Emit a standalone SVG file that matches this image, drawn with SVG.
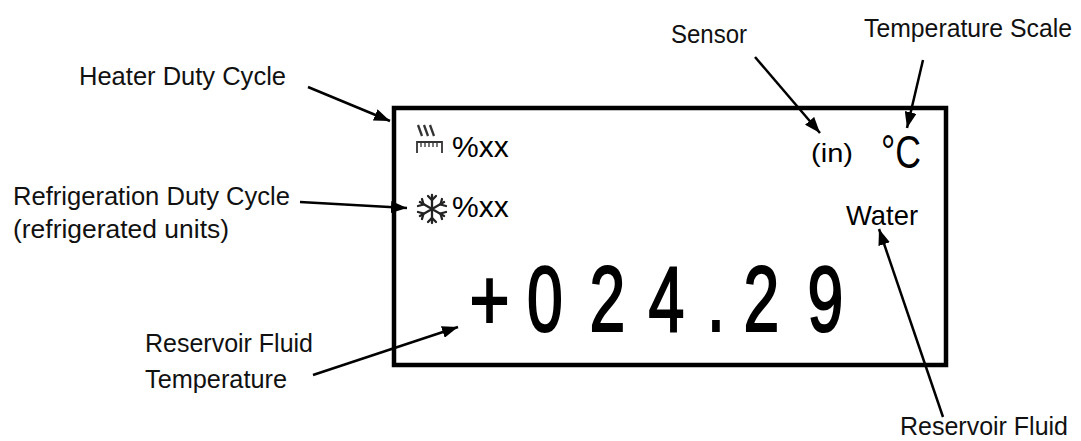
<svg xmlns="http://www.w3.org/2000/svg" width="1081" height="441" viewBox="0 0 1081 441">
<style>
.lbl{font-family:"Liberation Sans Narrow","Liberation Sans",Arial,sans-serif;font-size:26px;fill:#111}
.disp{font-family:"Liberation Sans",Arial,sans-serif;fill:#000}
.big{stroke:#000;stroke-width:2.2}
.con line{stroke:#000;stroke-width:2.5}
</style>
<defs>
<marker id="ah" viewBox="0 0 16 12" refX="16" refY="6" markerWidth="16" markerHeight="12" markerUnits="userSpaceOnUse" orient="auto">
<path d="M0,0 L16,6 L0,12 z" fill="#000"/>
</marker>
</defs>
<rect width="1081" height="441" fill="#fff"/>
<g id="display">
<rect x="394" y="108" width="552" height="257" fill="none" stroke="#000" stroke-width="4.5"/>
</g>
<g id="heater-icon" fill="none" stroke="#333" stroke-width="1.8">
<path d="M418,125 L422,136 M424,125 L428,136 M430,125 L434,136" stroke-width="2.3"/>
<path d="M417,153 V142 H442 V153"/>
<path d="M421,142 V147 M425,142 V147 M429,142 V147 M433,142 V147 M437,142 V147" stroke-width="1.3"/>
</g>
<g id="heater-value"><text class="disp" x="452" y="157" font-size="30">%xx</text></g>
<g id="snow-icon" fill="none" stroke="#222" stroke-width="2.3" stroke-linecap="round">
<path d="M432,195 V223 M419.9,202 L444.1,216 M419.9,216 L444.1,202"/>
<path d="M428,196 L432,200 L436,196 M428,222 L432,218 L436,222"/>
<path d="M418,206 L423.5,204.5 L422,199 M446,212 L440.5,213.5 L442,219"/>
<path d="M418,212 L423.5,213.5 L422,219 M446,206 L440.5,204.5 L442,199"/>
</g>
<g id="refrig-value"><text class="disp" x="452" y="217" font-size="30">%xx</text></g>
<g id="sensor-value"><text class="disp" x="811" y="162" font-size="26" textLength="42" lengthAdjust="spacingAndGlyphs">(in)</text></g>
<g id="scale-value"><text class="disp" x="881" y="168" font-size="46" textLength="40" lengthAdjust="spacingAndGlyphs">°C</text></g>
<g id="fluid-value"><text class="disp" x="846" y="225" font-size="28" textLength="72" lengthAdjust="spacingAndGlyphs">Water</text></g>
<g id="temp-value">
<text class="disp big" transform="scale(0.78,1)" x="627.6" y="330" font-size="88" text-anchor="middle">+</text>
<text class="disp big" transform="scale(0.7,1)" font-size="92" text-anchor="middle" y="331"><tspan x="778.6">0</tspan><tspan x="867.9">2</tspan><tspan x="952.1">4</tspan><tspan x="1022.9">.</tspan><tspan x="1087.9">2</tspan><tspan x="1179.3">9</tspan></text>
</g>
<g id="lbl-heater"><text class="lbl" x="79" y="85" textLength="207" lengthAdjust="spacingAndGlyphs">Heater Duty Cycle</text></g>
<g id="lbl-refrig"><text class="lbl" x="13" y="205" textLength="277" lengthAdjust="spacingAndGlyphs">Refrigeration Duty Cycle</text>
<text class="lbl" x="13" y="238" textLength="216" lengthAdjust="spacingAndGlyphs">(refrigerated units)</text></g>
<g id="lbl-sensor"><text class="lbl" x="671" y="43" textLength="76" lengthAdjust="spacingAndGlyphs">Sensor</text></g>
<g id="lbl-scale"><text class="lbl" x="864" y="37" textLength="208" lengthAdjust="spacingAndGlyphs">Temperature Scale</text></g>
<g id="lbl-temp"><text class="lbl" x="145" y="352" textLength="168" lengthAdjust="spacingAndGlyphs">Reservoir Fluid</text>
<text class="lbl" x="145" y="388" textLength="142" lengthAdjust="spacingAndGlyphs">Temperature</text></g>
<g id="lbl-fluid"><text class="lbl" x="900" y="435" textLength="168" lengthAdjust="spacingAndGlyphs">Reservoir Fluid</text></g>
<g id="connectors" class="con">
<line x1="308" y1="87" x2="390" y2="121" marker-end="url(#ah)"/>
<line x1="300" y1="202" x2="407" y2="208" marker-end="url(#ah)"/>
<line x1="755" y1="57" x2="820" y2="133" marker-end="url(#ah)"/>
<line x1="923" y1="60" x2="907" y2="128" marker-end="url(#ah)"/>
<line x1="943" y1="417" x2="879" y2="229" marker-end="url(#ah)"/>
<line x1="313" y1="375" x2="458" y2="327" marker-end="url(#ah)"/>
</g>
</svg>
